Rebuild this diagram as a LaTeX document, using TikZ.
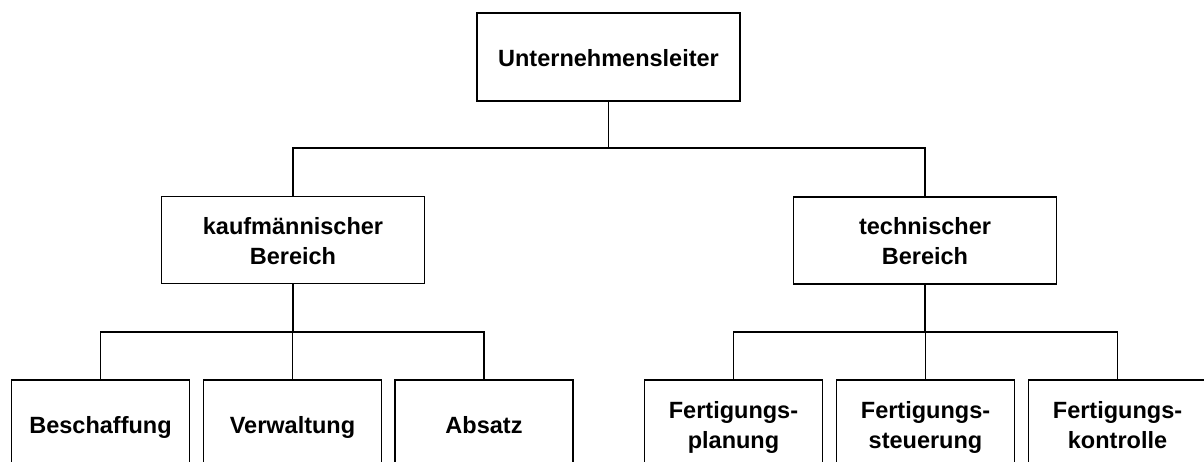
\documentclass[tikz,border=0pt]{standalone}
\usepackage{fontspec}
\setmainfont{Liberation Sans}
\newcommand\lnstrut{\rule[-5pt]{0pt}{29pt}}
\begin{document}
\begin{tikzpicture}[x=1pt,y=-1pt,
  box/.style={draw=black,line width=1.8pt,fill=white,align=center,inner sep=0pt,
    font=\fontsize{23.5}{30}\selectfont\bfseries},
  wide/.style={box,minimum width=263pt,minimum height=87pt},
  small/.style={box,minimum width=178pt,minimum height=88pt},
  link/.style={draw=black,line width=1.8pt}]
\clip (0,0) rectangle (1204,462);
\fill[white] (0,0) rectangle (1204,462);
\node[wide,minimum height=88pt] (top) at (608.5,57) {\lnstrut Unternehmensleiter};
\node[wide] (kauf) at (293,240) {\lnstrut kaufmännischer\\\lnstrut Bereich};
\node[wide] (tech) at (925,240.5) {\lnstrut technischer\\\lnstrut Bereich};
\node[small] (besch) at (100.5,424) {\lnstrut Beschaffung};
\node[small] (verw) at (292.5,424) {\lnstrut Verwaltung};
\node[small] (abs) at (484,424) {\lnstrut Absatz};
\node[small] (plan) at (733.5,424) {\lnstrut Fertigungs-\\\lnstrut planung};
\node[small] (steu) at (925.5,424) {\lnstrut Fertigungs-\\\lnstrut steuerung};
\node[small] (kontr) at (1117.5,424) {\lnstrut Fertigungs-\\\lnstrut kontrolle};
\coordinate (b1) at (608.5,148);
\coordinate (b2) at (293,332);
\coordinate (b3) at (925,332);
\draw[link] (top.south) -- (b1);
\draw[link] (kauf.north) |- (b1) -| (tech.north);
\draw[link] (kauf.south) -- (b2);
\draw[link] (besch.north) |- (b2) -| (abs.north);
\draw[link] (verw.north) -- (verw.north |- b2);
\draw[link] (tech.south) -- (b3);
\draw[link] (plan.north) |- (b3) -| (kontr.north);
\draw[link] (steu.north) -- (steu.north |- b3);
\end{tikzpicture}
\end{document}
